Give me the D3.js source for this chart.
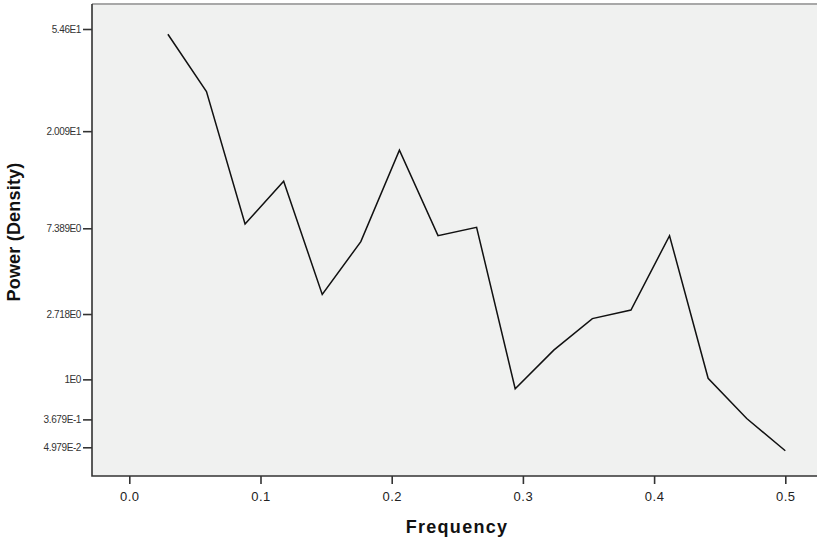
<!DOCTYPE html>
<html lang="en">
<head>
    <meta charset="UTF-8">
    <title>Spectral Density</title>
    <script src="https://d3js.org/d3.v7.min.js"></script>
</head>
<style>
    body { margin: 0; background: #fff; }
    svg text { font-family: "Liberation Sans", Arial, Helvetica, sans-serif; }
</style>
<body>
<script>
    // periodogram frequencies k/34, k = 1..17
    const frequency = [1, 2, 3, 4, 5, 6, 7, 8, 9, 10, 11, 12, 13, 14, 15, 16, 17].map(k => k / 34)
    const density = [51.9, 29.7, 7.74, 12.1, 3.48, 6.39, 16.6, 6.82, 7.47, 0.83, 1.64, 2.56, 2.86, 6.82, 1.02, 0.38, 0.016]

    const yTickValues = [54.598, 20.086, 7.389, 2.718, 1, 0.3679, 0.04979]
    const yTickLabels = ["5.46E1", "2.009E1", "7.389E0", "2.718E0", "1E0", "3.679E-1", "4.979E-2"]
    const xTickValues = [0, 0.1, 0.2, 0.3, 0.4, 0.5]

    const width = 817, height = 543
    const plot = { left: 92, top: 4, right: 817, bottom: 476 }

    const x = d3.scaleLinear().domain([0, 0.5]).range([129.3, 785.3])
    const y = d3.scaleSymlog().constant(1).domain([0, 54.598]).range([452.4, 29])

    const svg = d3.select("body").append("svg")
        .attr("width", width)
        .attr("height", height)

    // plot background
    svg.append("rect")
        .attr("x", plot.left)
        .attr("y", plot.top)
        .attr("width", plot.right - plot.left)
        .attr("height", plot.bottom - plot.top)
        .attr("fill", "#f0f1f0")

    svg.append("line")
        .attr("x1", plot.left).attr("x2", plot.right)
        .attr("y1", plot.top).attr("y2", plot.top)
        .attr("stroke", "#a8a8a8").attr("stroke-width", 2)

    // y axis
    const yAxis = d3.axisLeft(y)
        .tickValues(yTickValues)
        .tickFormat((d, i) => yTickLabels[i])
        .tickSize(9)
        .tickPadding(2)
    const gy = svg.append("g")
        .attr("transform", "translate(" + plot.left + ",0)")
        .call(yAxis)
    gy.select(".domain").remove()
    gy.selectAll(".tick line").attr("stroke", "#333").attr("stroke-width", 1.6)
    gy.selectAll(".tick text")
        .attr("fill", "#333")
        .style("font-size", "10px")
        .style("letter-spacing", "-0.4px")

    // x axis
    const xAxis = d3.axisBottom(x)
        .tickValues(xTickValues)
        .tickFormat(d3.format(".1f"))
        .tickSize(8)
        .tickPadding(8)
    const gx = svg.append("g")
        .attr("transform", "translate(0," + plot.bottom + ")")
        .call(xAxis)
    gx.select(".domain").remove()
    gx.selectAll(".tick line").attr("stroke", "#333").attr("stroke-width", 1.6)
    gx.selectAll(".tick text")
        .attr("fill", "#222")
        .style("font-size", "13px")
        .style("letter-spacing", "0.5px")

    // frame (left and bottom)
    svg.append("path")
        .attr("d", "M" + plot.left + "," + plot.top + "V" + plot.bottom + "H" + plot.right)
        .attr("fill", "none")
        .attr("stroke", "#333")
        .attr("stroke-width", 1.6)

    // density line
    const valueLine = d3.line()
        .x((d, i) => x(frequency[i]))
        .y(d => y(d))
    svg.append("path")
        .attr("d", valueLine(density))
        .attr("fill", "none")
        .attr("stroke", "#111")
        .attr("stroke-width", 1.5)

    // axis titles
    svg.append("text")
        .attr("x", 457)
        .attr("y", 533)
        .attr("text-anchor", "middle")
        .style("font-size", "18px")
        .style("font-weight", "bold")
        .style("letter-spacing", "1.3px")
        .attr("fill", "#111")
        .text("Frequency")

    svg.append("text")
        .attr("transform", "translate(20,232) rotate(-90)")
        .attr("text-anchor", "middle")
        .style("font-size", "18px")
        .style("font-weight", "bold")
        .style("letter-spacing", "0.2px")
        .attr("fill", "#111")
        .text("Power (Density)")
</script>
</body>
</html>
